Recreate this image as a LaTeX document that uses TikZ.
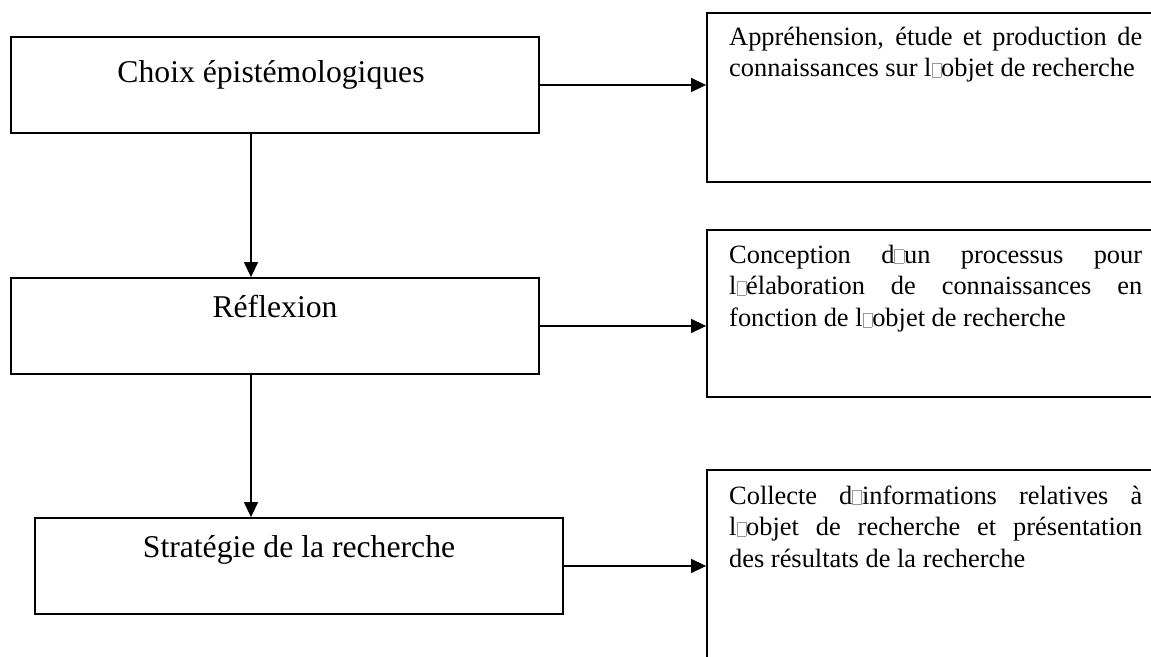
\documentclass[tikz,border=0pt]{standalone}
\usepackage{fontspec}
\setmainfont{Liberation Serif}
\usetikzlibrary{arrows.meta}
\usetikzlibrary{positioning}
\newcommand{\tofu}{{\color{gray!80}\setlength{\fboxsep}{0pt}\setlength{\fboxrule}{0.6bp}\fbox{\rule{0pt}{0.5em}\hspace{0.32em}}}}
\hbadness=10000
\tolerance=10000

\begin{document}
\begin{tikzpicture}[>={Triangle[length=15bp,width=14bp]},line join=miter,
  box/.style={draw,line width=1.8bp,minimum width=528bp,minimum height=96bp,inner sep=0pt},
  note/.style={draw,line width=1.8bp,minimum width=453bp,inner sep=0pt},
  big/.style={font=\fontsize{31.8}{38}\selectfont,inner sep=0pt,anchor=base},
  small/.style={font=\fontsize{26.5}{32}\selectfont,inner sep=0pt,anchor=north west,text width=413bp,align=justify},
  flow/.style={->,line width=1.3bp}]
%%
\useasboundingbox (0bp,0bp) rectangle (1151bp,657bp);
\clip (0bp,0bp) rectangle (1151bp,657bp);
\node (node_0) at (275bp,572bp) [box] {};
  \node (node_1) at (275bp,331bp) [box] {};
  \node (node_2) at (299bp,91bp) [box] {};
  \node (node_3) at (933.5bp,559.5bp) [note,minimum height=169bp] {};
  \node (node_4) at (933.5bp,343.5bp) [note,minimum height=167bp] {};
  \node (node_5) at (933.5bp,82bp) [note,minimum height=210bp] {};
  \node (label_0) at (271bp,574bp) [big] {Choix épistémologiques};
  \node (label_1) at (275bp,339bp) [big] {Réflexion};
  \node (label_2) at (299bp,99bp) [big] {Stratégie de la recherche};
  \node (label_3) at (729bp,634.4bp) [small] {\strut Appréhension, étude et production de\linebreak connaissances sur l\tofu objet de recherche};
  \node (label_4) at (729bp,416.4bp) [small] {\strut Conception d\tofu un processus pour\linebreak l\tofu élaboration de connaissances en\linebreak fonction de l\tofu objet de recherche};
  \node (label_5) at (729bp,175.4bp) [small] {\strut Collecte d\tofu informations relatives à\linebreak l\tofu objet de recherche et présentation\linebreak des résultats de la recherche};
  \draw [flow] ([xshift=-24bp]node_0.south) -- ([xshift=-24bp]node_1.north);
  \draw [flow] ([xshift=-24bp]node_1.south) -- ([xshift=-48bp]node_2.north);
  \draw [flow] (node_0.east) -- (node_0.east -| node_3.west);
  \draw [flow] (node_1.east) -- (node_1.east -| node_4.west);
  \draw [flow] (node_2.east) -- (node_2.east -| node_5.west);
%
\end{tikzpicture}
\end{document}
